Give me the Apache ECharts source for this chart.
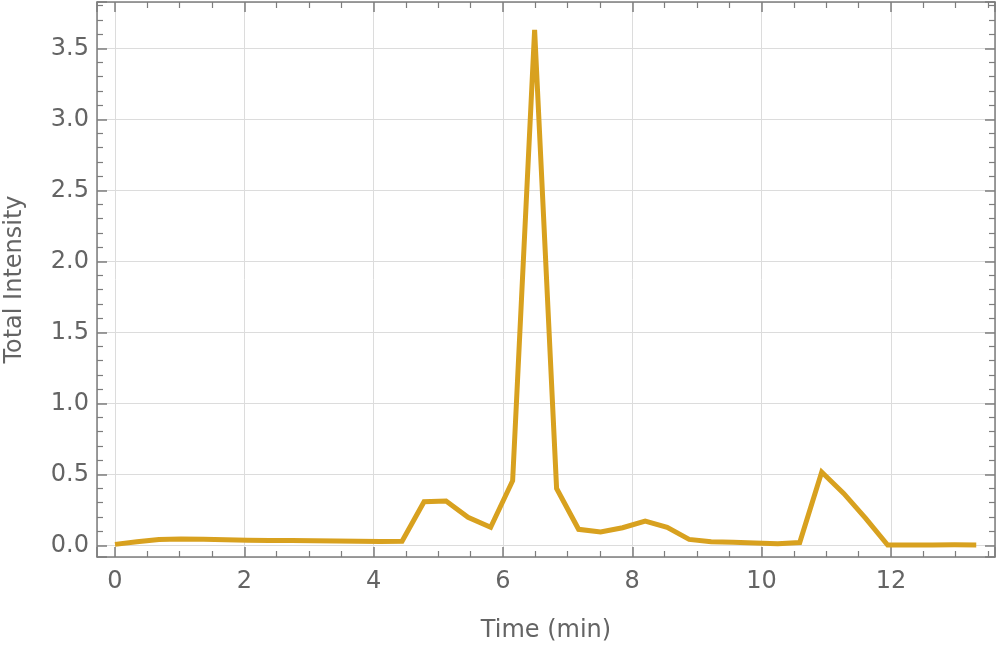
<!DOCTYPE html>
<html>
<head>
<meta charset="utf-8">
<script src="https://cdn.jsdelivr.net/npm/echarts@6/dist/echarts.min.js"></script>
<style>
  html, body { margin: 0; padding: 0; background: #fff; }
  #chart { width: 997px; height: 650px; }
</style>
</head>
<body>
<div id="chart"></div>
<script>
// sample times (min) and total intensity
const times = [0, 0.34, 0.68, 1.02, 1.37, 1.71, 2.05, 2.39, 2.73, 3.07,
  3.42, 3.76, 4.10, 4.44, 4.78, 5.12, 5.46, 5.81, 6.15, 6.49,
  6.83, 7.17, 7.51, 7.85, 8.20, 8.54, 8.88, 9.22, 9.56, 9.90,
  10.25, 10.59, 10.93, 11.27, 11.61, 11.95, 12.29, 12.64, 12.98, 13.32]
const intensity = [0.007, 0.025, 0.041, 0.045, 0.043, 0.040, 0.036, 0.035, 0.034, 0.033,
  0.031, 0.029, 0.027, 0.029, 0.307, 0.312, 0.197, 0.127, 0.455, 3.63,
  0.40, 0.113, 0.094, 0.124, 0.171, 0.127, 0.042, 0.026, 0.021, 0.016,
  0.012, 0.020, 0.516, 0.366, 0.190, 0.002, 0.002, 0.003, 0.004, 0.003]

const xRange = [-0.278, 13.61]
const yRange = [-0.082, 3.826]
const xStep = 2
const yStep = 0.5

const frameColor = '#7d7d7d'
const textColor = '#646464'
const fontFamily = 'DejaVu Sans'

const chart = echarts.init(document.getElementById('chart'), null, { renderer: 'canvas' })

// shared axis pieces; mirror axes on top/right only carry ticks
const xBase = (show) => ({
  type: 'value',
  min: xRange[0],
  max: xRange[1],
  minInterval: xStep,
  maxInterval: xStep,
  splitNumber: 7,
  axisLine: { show: true, onZero: false, lineStyle: { color: frameColor, width: 1.5 } },
  axisTick: { show: true, inside: true, length: 10, lineStyle: { color: frameColor, width: 1.5 } },
  minorTick: { show: true, splitNumber: 4, length: 6, lineStyle: { color: frameColor, width: 1.2 } },
  axisLabel: {
    show: show,
    margin: 13,
    color: textColor,
    fontSize: 24,
    fontFamily: fontFamily,
    formatter: (v) => (Math.abs(v / xStep - Math.round(v / xStep)) < 1e-6 ? String(Math.round(v)) : ''),
  },
  splitLine: { show: show, lineStyle: { color: '#dcdcdc', width: 1 } },
})

const yBase = (show) => ({
  type: 'value',
  min: yRange[0],
  max: yRange[1],
  minInterval: yStep,
  maxInterval: yStep,
  splitNumber: 8,
  axisLine: { show: true, onZero: false, lineStyle: { color: frameColor, width: 1.5 } },
  axisTick: { show: true, inside: true, length: 10, lineStyle: { color: frameColor, width: 1.5 } },
  minorTick: { show: true, splitNumber: 5, length: 6, lineStyle: { color: frameColor, width: 1.2 } },
  axisLabel: {
    show: show,
    margin: 8,
    color: textColor,
    fontSize: 24,
    fontFamily: fontFamily,
    formatter: (v) => (Math.abs(v / yStep - Math.round(v / yStep)) < 1e-6 ? Math.abs(v).toFixed(1) : ''),
  },
  splitLine: { show: show, lineStyle: { color: '#dcdcdc', width: 1 } },
})

const option = {
  backgroundColor: '#fff',
  animation: false,
  grid: { left: 97, right: 2, top: 2, bottom: 93, containLabel: false, outerBoundsMode: 'none' },
  xAxis: [
    Object.assign(xBase(true), {
      position: 'bottom',
      name: 'Time (min)',
      nameLocation: 'middle',
      nameGap: 62,
      nameTextStyle: { color: textColor, fontSize: 24, fontFamily: fontFamily },
    }),
    Object.assign(xBase(false), { position: 'top' }),
  ],
  yAxis: [
    Object.assign(yBase(true), {
      position: 'left',
      name: 'Total Intensity',
      nameLocation: 'middle',
      nameGap: 70,
      nameTextStyle: { color: textColor, fontSize: 24, fontFamily: fontFamily },
    }),
    Object.assign(yBase(false), { position: 'right' }),
  ],
  series: [
    {
      type: 'line',
      xAxisIndex: 0,
      yAxisIndex: 0,
      data: times.map((t, i) => [t, intensity[i]]),
      showSymbol: false,
      symbol: 'none',
      lineStyle: { color: '#d8a11f', width: 5, join: 'miter' },
      itemStyle: { color: '#d8a11f' },
      z: 5,
    },
  ],
}

chart.setOption(option)
</script>
</body>
</html>
